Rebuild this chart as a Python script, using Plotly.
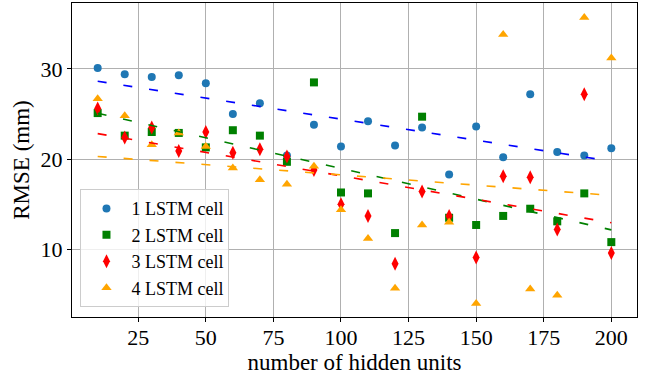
import numpy as np
import plotly.graph_objects as go

hidden_units = [10, 20, 30, 40, 50, 60, 70, 80, 90, 100, 110, 120, 130, 140, 150, 160, 170, 180, 190, 200]
rmse_1 = [30.1, 29.4, 29.1, 29.3, 28.4, 25.0, 26.2, 20.4, 23.8, 21.4, 24.2, 21.5, 23.5, 18.3, 23.6, 20.2, 27.2, 20.8, 20.4, 21.2]
rmse_2 = [25.1, 22.6, 23.0, 22.9, 21.3, 23.2, 22.6, 19.7, 28.5, 16.3, 16.2, 11.8, 24.7, 13.5, 12.7, 13.7, 14.5, 13.1, 16.2, 10.8]
rmse_3 = [25.6, 22.4, 23.5, 20.9, 23.0, 20.7, 21.1, 20.3, 18.8, 15.0, 13.7, 8.4, 16.4, 13.7, 9.1, 18.1, 18.0, 12.2, 27.2, 9.6]
rmse_4 = [26.7, 24.8, 21.6, 22.9, 21.4, 19.0, 17.7, 17.2, 19.2, 14.4, 11.2, 5.7, 12.7, 13.0, 4.0, 33.8, 5.6, 4.9, 35.7, 31.2]

names = ["1 LSTM cell", "2 LSTM cell", "3 LSTM cell", "4 LSTM cell"]
marker_colors = ["#1f77b4", "#008000", "#ff0000", "#ffa500"]
line_colors = ["#0000ff", "#008000", "#ff0000", "#ffa500"]
symbols = ["circle", "square", "diamond-tall", "triangle-up"]
sizes = [8, 8, 10, 9]

fig = go.Figure()
xs = np.array(hidden_units, dtype=float)
series = [rmse_1, rmse_2, rmse_3, rmse_4]
for i, ys in enumerate(series):
    fig.add_trace(go.Scatter(
        x=hidden_units, y=ys, mode="markers", name=names[i],
        marker=dict(symbol=symbols[i], color=marker_colors[i], size=sizes[i], line=dict(width=0)),
    ))
for i, ys in enumerate(series):
    a, b = np.polyfit(xs, np.array(ys), 1)
    fig.add_trace(go.Scatter(
        x=hidden_units, y=list(a * xs + b), mode="lines", showlegend=False,
        line=dict(color=line_colors[i], width=1.6, dash="9px,17px"),
        hoverinfo="skip",
    ))

font_family = "Liberation Serif"
fig.update_layout(
    width=647, height=377, autosize=False,
    margin=dict(l=72, r=10, t=3, b=60),
    paper_bgcolor="white", plot_bgcolor="white",
    font=dict(family=font_family, size=22, color="black"),
    legend=dict(
        x=0.015, y=0.031, xanchor="left", yanchor="bottom",
        bgcolor="rgba(255,255,255,0.8)", bordercolor="#cccccc", borderwidth=1,
        font=dict(size=18, family=font_family), tracegroupgap=0,
        itemwidth=40,
    ),
    xaxis=dict(
        range=[0.5, 209.5], tickvals=[25, 50, 75, 100, 125, 150, 175, 200],
        showgrid=True, gridcolor="#b0b0b0", gridwidth=1,
        showline=True, linecolor="black", linewidth=1, mirror=True,
        ticks="outside", ticklen=4, tickcolor="black", ticklabelstandoff=-3,
        title=dict(text="number of hidden units", standoff=0, font=dict(size=23)),
        zeroline=False,
    ),
    yaxis=dict(
        range=[2.5, 37.3], tickvals=[10, 20, 30],
        showgrid=True, gridcolor="#b0b0b0", gridwidth=1,
        showline=True, linecolor="black", linewidth=1, mirror=True,
        ticks="outside", ticklen=4, tickcolor="black",
        title=dict(text="RMSE (mm)", standoff=4, font=dict(size=23)),
        zeroline=False,
    ),
)
fig.write_html("out.html")
